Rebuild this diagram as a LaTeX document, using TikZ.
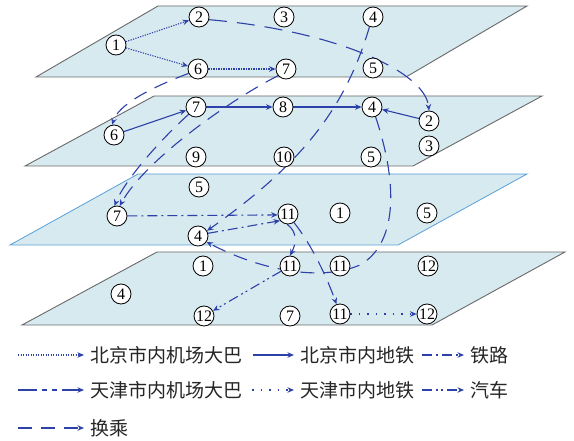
\documentclass[tikz,border=0pt]{standalone}
\usepackage{fontspec}
\setmainfont{Liberation Serif}
\newfontfamily\cjk{Noto Sans CJK SC}
\usetikzlibrary{arrows.meta}
\definecolor{planefill}{RGB}{215,234,240}
\definecolor{planegray}{RGB}{105,105,105}
\definecolor{planeblue}{RGB}{90,160,215}
\definecolor{lineblue}{RGB}{45,65,170}
\pgfdeclarelayer{bg}
\pgfdeclarelayer{mid}
\pgfsetlayers{bg,mid,main}
\tikzset{
 stn/.style={circle,draw=black,line width=0.8pt,fill=white,minimum size=20pt,inner sep=0pt,font=\fontsize{16}{16}\selectfont},
 plane/.style={fill=planefill,draw=planegray,line width=0.9pt},
 conn/.style={draw=lineblue,line width=1.1pt,-{Stealth[length=6.5pt,width=5.5pt]}},
 bjbus/.style={conn,dash pattern=on 1.2pt off 1.3pt},
 bjsub/.style={conn},
 rail/.style={conn,dash pattern=on 10pt off 4pt on 2pt off 4pt},
 tjbus/.style={conn,dash pattern=on 18pt off 10pt},
 tjbusleg/.style={conn,dash pattern=on 19pt off 5pt on 5pt off 5pt on 5pt off 5pt},
 tjsub/.style={conn,dash pattern=on 1.5pt off 7pt},
 car/.style={conn,dash pattern=on 10pt off 4pt on 2pt off 3pt on 2pt off 4pt},
 xfer/.style={conn,dash pattern=on 14pt off 9pt},
 legtext/.style={anchor=west,inner sep=0pt,font=\cjk\fontsize{19}{19}\selectfont,text=black!85},
 legline/.style={shorten >=6pt}
}
\begin{document}
\begin{tikzpicture}[x=1pt,y=-1pt]
\useasboundingbox (0,0) rectangle (574,441);
% planes
\begin{pgfonlayer}{bg}
\fill[white] (0,0) rectangle (574,441);
\draw[plane] (36,77) -- (158,6) -- (527,6) -- (406,77) -- cycle;
\draw[plane] (25,166) -- (154,96) -- (542,96) -- (413,166) -- cycle;
\draw[plane,draw=planeblue,line width=0.8pt] (10,245) -- (138,174) -- (527,174) -- (398,245) -- cycle;
\draw[plane] (22,325) -- (157,252) -- (565,252) -- (432,325) -- cycle;
\end{pgfonlayer}
% plane 1
\node[stn] (a1) at (116,45) {1};
\node[stn] (a2) at (199,17) {2};
\node[stn] (a3) at (284,17) {3};
\node[stn] (a4) at (373,17) {4};
\node[stn] (a5) at (373,68) {5};
\node[stn] (a6) at (198,69) {6};
\node[stn] (a7) at (286,69) {7};
% plane 2
\node[stn] (b6) at (114,135) {6};
\node[stn] (b7) at (196,107) {7};
\node[stn] (b8) at (283,107) {8};
\node[stn] (b4) at (372,107) {4};
\node[stn] (b2) at (429,121) {2};
\node[stn] (b3) at (429,146) {3};
\node[stn] (b9) at (196,157) {9};
\node[stn] (b10) at (284,157) {10};
\node[stn] (b5) at (371,157) {5};
% plane 3
\node[stn] (c5) at (199,187) {5};
\node[stn] (c7) at (117,216) {7};
\node[stn] (c4) at (198,236) {4};
\node[stn] (c11) at (288,214) {11};
\node[stn] (c1) at (340,213) {1};
\node[stn] (c5b) at (427,213) {5};
% plane 4
\node[stn] (d1) at (203,266) {1};
\node[stn] (d4) at (121,294) {4};
\node[stn] (d12a) at (204,316) {12};
\node[stn] (d7) at (290,316) {7};
\node[stn] (d11a) at (290,266) {11};
\node[stn] (d11b) at (340,266) {11};
\node[stn] (d12b) at (428,266) {12};
\node[stn] (d11c) at (340,314) {11};
\node[stn] (d12c) at (427,314) {12};
% connectors
\begin{pgfonlayer}{mid}
\draw[bjbus] (a1) -- (a2);
\draw[bjbus] (a1) -- (a6);
\draw[bjbus] (a6) -- (a7);
\draw[bjsub] (b6) -- (b7);
\draw[bjsub] (b7) -- (b8);
\draw[bjsub] (b8) -- (b4);
\draw[bjsub] (b2) -- (b4);
\draw[rail] (c7) -- (c11.185);
\draw[rail] (c4.15) -- (c11.220);
\draw[car] (d11a) -- (d12a);
\draw[tjsub] (d11c) -- (d12c);
\draw[tjbus] (a2.345) .. controls (330,30) and (425,70) .. (b2.north);
\draw[xfer] (a6.205) .. controls (150,88) and (118,105) .. (b6.100);
\draw[xfer] (a7.220) .. controls (230,100) and (145,160) .. (c7.75);
\draw[xfer] (b7.225) .. controls (160,140) and (125,180) .. (c7.105);
\draw[xfer] (a4.250) .. controls (345,110) and (300,165) .. (c4.30);
\draw[xfer] (b4.290) .. controls (400,190) and (395,245) .. (360,265) .. controls (320,282) and (260,270) .. (c4.-35);
\draw[xfer] (c11.265) .. controls (298,232) and (296,244) .. (d11a.north);
\draw[xfer] (c11.-55) .. controls (312,245) and (328,280) .. (d11c.110);
\end{pgfonlayer}
% legend
\coordinate (l1) at (18,355);
\coordinate (l2) at (253,355);
\coordinate (l3) at (422,355);
\coordinate (l4) at (18,390);
\coordinate (l5) at (252,390);
\coordinate (l6) at (422,390);
\coordinate (l7) at (18,428);
\node[legtext] (t1) at (90,355) {北京市内机场大巴};
\node[legtext] (t2) at (300,355) {北京市内地铁};
\node[legtext] (t3) at (470,355) {铁路};
\node[legtext] (t4) at (90,390) {天津市内机场大巴};
\node[legtext] (t5) at (300,390) {天津市内地铁};
\node[legtext] (t6) at (470,390) {汽车};
\node[legtext] (t7) at (90,428) {换乘};
\draw[bjbus,legline] (l1) -- (t1);
\draw[bjsub,legline] (l2) -- (t2);
\draw[rail,legline] (l3) -- (t3);
\draw[tjbusleg,legline] (l4) -- (t4);
\draw[tjsub,legline] (l5) -- (t5);
\draw[car,legline] (l6) -- (t6);
\draw[xfer,legline] (l7) -- (t7);
\end{tikzpicture}
\end{document}
